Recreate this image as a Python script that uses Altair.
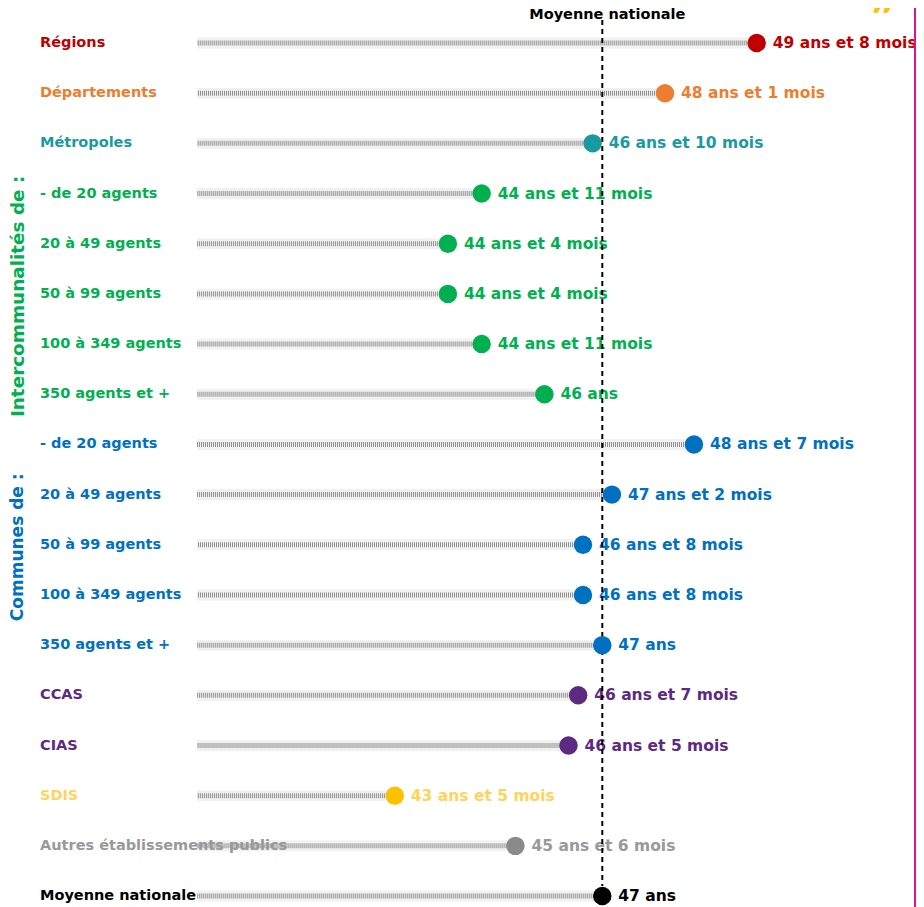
import altair as alt
import pandas as pd

labels = ["Régions", "Départements", "Métropoles",
          "- de 20 agents", "20 à 49 agents", "50 à 99 agents", "100 à 349 agents", "350 agents et +",
          "- de 20 agents", "20 à 49 agents", "50 à 99 agents", "100 à 349 agents", "350 agents et +",
          "CCAS", "CIAS", "SDIS", "Autres établissements publics", "Moyenne nationale"]
years = [49, 48, 46, 44, 44, 44, 44, 46, 48, 47, 46, 46, 47, 46, 46, 43, 45, 47]
months = [8, 1, 10, 11, 4, 4, 11, 0, 7, 2, 8, 8, 0, 7, 5, 5, 6, 0]
value_labels = ["49 ans et 8 mois", "48 ans et 1 mois", "46 ans et 10 mois",
                "44 ans et 11 mois", "44 ans et  4 mois", "44 ans et  4 mois", "44 ans et 11 mois", "46 ans",
                "48 ans et 7 mois", "47 ans et 2 mois", "46 ans et 8 mois", "46 ans et 8 mois", "47 ans",
                "46 ans et 7 mois", "46 ans et 5 mois", "43 ans et 5 mois", "45 ans et 6 mois", "47 ans"]
dot_colors = ["#C00000", "#ED7D31", "#1A9AA0",
              "#00B050", "#00B050", "#00B050", "#00B050", "#00B050",
              "#0070C0", "#0070C0", "#0070C0", "#0070C0", "#0070C0",
              "#5C2A80", "#5C2A80", "#FFC000", "#8A8A8A", "#000000"]
text_colors = ["#C00000", "#ED7D31", "#1A9AA0",
               "#00B050", "#00B050", "#00B050", "#00B050", "#00B050",
               "#0070C0", "#0070C0", "#0070C0", "#0070C0", "#0070C0",
               "#5C2A80", "#5C2A80", "#FFD45E", "#999999", "#000000"]

group_names = ["Intercommunalités de :", "Communes de :"]
group_rows = [[3, 4, 5, 6, 7], [8, 9, 10, 11, 12]]
group_colors = ["#00B050", "#0070C0"]
group_sizes = [18.4, 17]

national_mean = 47
axis_start = 40

df = pd.DataFrame({
    "idx": list(range(len(labels))),
    "label": labels,
    "age": [y + m / 12 for y, m in zip(years, months)],
    "vlabel": value_labels,
    "dcol": dot_colors,
    "tcol": text_colors,
})
gdf = pd.DataFrame({
    "name": group_names,
    "idx": [sum(r) / len(r) + 0.05 for r in group_rows],
    "col": group_colors,
    "fs": group_sizes,
})

W, H = 719, 881
PX_PER_YEAR = 57.9
xs = alt.Scale(domain=[axis_start, axis_start + W / PX_PER_YEAR], nice=False, zero=False, padding=0)
ys = alt.Scale(domain=[-0.498, 17.059], reverse=True, nice=False, zero=False, padding=0)
FONT = "DejaVu Sans"

base = alt.Chart(df)
Y = alt.Y("idx:Q", scale=ys, axis=None)

shadow = base.mark_bar(height=11, color="#f1f1f1").encode(
    x=alt.X("age:Q", scale=xs, axis=None), x2=alt.X2(datum=axis_start), y=Y)
texture = base.mark_rule(strokeDash=[1, 1], strokeWidth=5, color="#8f8f8f").encode(
    x=alt.X("age:Q", scale=xs, axis=None), x2=alt.X2(datum=axis_start), y=Y)

left_labels = base.mark_text(align="left", baseline="middle", font=FONT, fontWeight="bold",
                             fontSize=14.5).encode(
    x=alt.value(-157), y=Y, text="label:N", color=alt.Color("tcol:N", scale=None))

value_text = base.mark_text(align="left", baseline="middle", font=FONT, fontWeight="bold",
                            fontSize=15.5, dx=16).encode(
    x=alt.X("age:Q", scale=xs, axis=None), y=Y, text="vlabel:N",
    color=alt.Color("tcol:N", scale=None))

mean_df = pd.DataFrame({"v": [national_mean], "t": ["Moyenne nationale"]})
mean_rule = alt.Chart(mean_df).mark_rule(strokeDash=[5, 4], strokeWidth=2, color="#000000").encode(
    x=alt.X("v:Q", scale=xs, axis=None), y=alt.value(2), y2=alt.value(868))
mean_title = alt.Chart(mean_df).mark_text(font=FONT, fontWeight="bold", fontSize=14.5,
                                          baseline="middle", color="#000000", dx=5).encode(
    x=alt.X("v:Q", scale=xs, axis=None), y=alt.value(-3), text="t:N")

dots = base.mark_circle(size=340, opacity=1).encode(
    x=alt.X("age:Q", scale=xs, axis=None), y=Y, color=alt.Color("dcol:N", scale=None))

group_text = alt.Chart(gdf).mark_text(angle=270, font=FONT, fontWeight="bold",
                                      baseline="middle", align="center").encode(
    x=alt.value(-179), y=alt.Y("idx:Q", scale=ys, axis=None), text="name:N",
    color=alt.Color("col:N", scale=None), size=alt.Size("fs:Q", scale=None))

deco_df = pd.DataFrame({"q": ["\u201d"]})
quote = alt.Chart(deco_df).mark_text(font=FONT, fontWeight="bold", fontSize=40, color="#FFC000",
                                     align="center", baseline="alphabetic").encode(
    x=alt.value(686), y=alt.value(12), text="q:N")
border = alt.Chart(deco_df).mark_rule(color="#D4149E", strokeWidth=2).encode(
    x=alt.value(W - 1), y=alt.value(-10), y2=alt.value(H + 10))

chart = alt.layer(shadow, texture, left_labels, value_text, mean_rule, mean_title, dots,
                  group_text, quote, border).properties(
    width=W, height=H,
    autosize=alt.AutoSizeParams(type="none"),
    padding={"left": 189, "top": 10, "right": 0, "bottom": 10},
).configure_view(stroke=None)

chart.save("out.html", embed_options={"renderer": "svg", "actions": False})
